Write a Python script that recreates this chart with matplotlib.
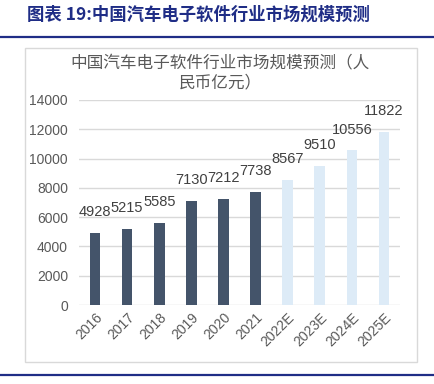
import matplotlib
matplotlib.use('Agg')
import matplotlib.pyplot as plt
from matplotlib.patches import Rectangle
from matplotlib.lines import Line2D

plt.rcParams['font.family'] = ['Liberation Sans', 'Noto Sans CJK SC', 'DejaVu Sans']

years = ['2016', '2017', '2018', '2019', '2020', '2021', '2022E', '2023E', '2024E', '2025E']
values = [4928, 5215, 5585, 7130, 7212, 7738, 8567, 9510, 10556, 11822]
colors = ['#44546A'] * 6 + ['#DDEBF7'] * 4
yticks = [0, 2000, 4000, 6000, 8000, 10000, 12000, 14000]

fig = plt.figure(figsize=(4.35, 3.84), dpi=100)

# header
fig.text(0.062, 0.962, '图表 19:中国汽车电子软件行业市场规模预测', fontsize=12.5, fontweight='bold',
         color='#1F2D86', family=['Noto Sans CJK SC', 'DejaVu Sans'], va='center', ha='left')
fig.add_artist(Line2D([0, 1], [0.904, 0.904], transform=fig.transFigure, color='#1F2D86', lw=1.6))
fig.add_artist(Line2D([0, 1], [0.024, 0.024], transform=fig.transFigure, color='#1F2D86', lw=1.6))

# chart frame
frame = Rectangle((0.0575, 0.0573), 0.901, 0.8177, transform=fig.transFigure,
                  facecolor='white', edgecolor='#D9D9D9', lw=1, zorder=-1)
fig.add_artist(frame)
fig.text(0.506, 0.81, '中国汽车电子软件行业市场规模预测（人\n民币亿元）', fontsize=12,
         color='#595959', family=['Noto Sans CJK SC', 'DejaVu Sans'], ha='center', va='center',
         linespacing=1.2)

ax = fig.add_axes([0.1816, 0.2057, 0.738, 0.534])
ax.patch.set_alpha(0)
x = range(len(years))
ax.bar(x, values, width=0.33, color=colors, zorder=3)
for i, v in enumerate(values):
    ax.annotate(str(v), (i, v), xytext=(0, 10), textcoords='offset points',
                ha='center', va='bottom', fontsize=10.5, color='#404040')

ax.set_xlim(-0.5, len(years) - 0.5)
ax.set_ylim(0, 14000)
ax.set_yticks(yticks)
ax.set_yticklabels([str(t) for t in yticks])
ax.set_xticks(list(x))
ax.set_xticklabels(years, rotation=45, ha='right', rotation_mode='anchor')
ax.tick_params(axis='both', length=0, labelsize=10, colors='#595959')
ax.tick_params(axis='y', pad=8)
ax.tick_params(axis='x', pad=4)
ax.grid(axis='y', color='#D9D9D9', lw=1, zorder=0)
for s in ax.spines.values():
    s.set_visible(False)

fig.savefig('out.png', dpi=100)
